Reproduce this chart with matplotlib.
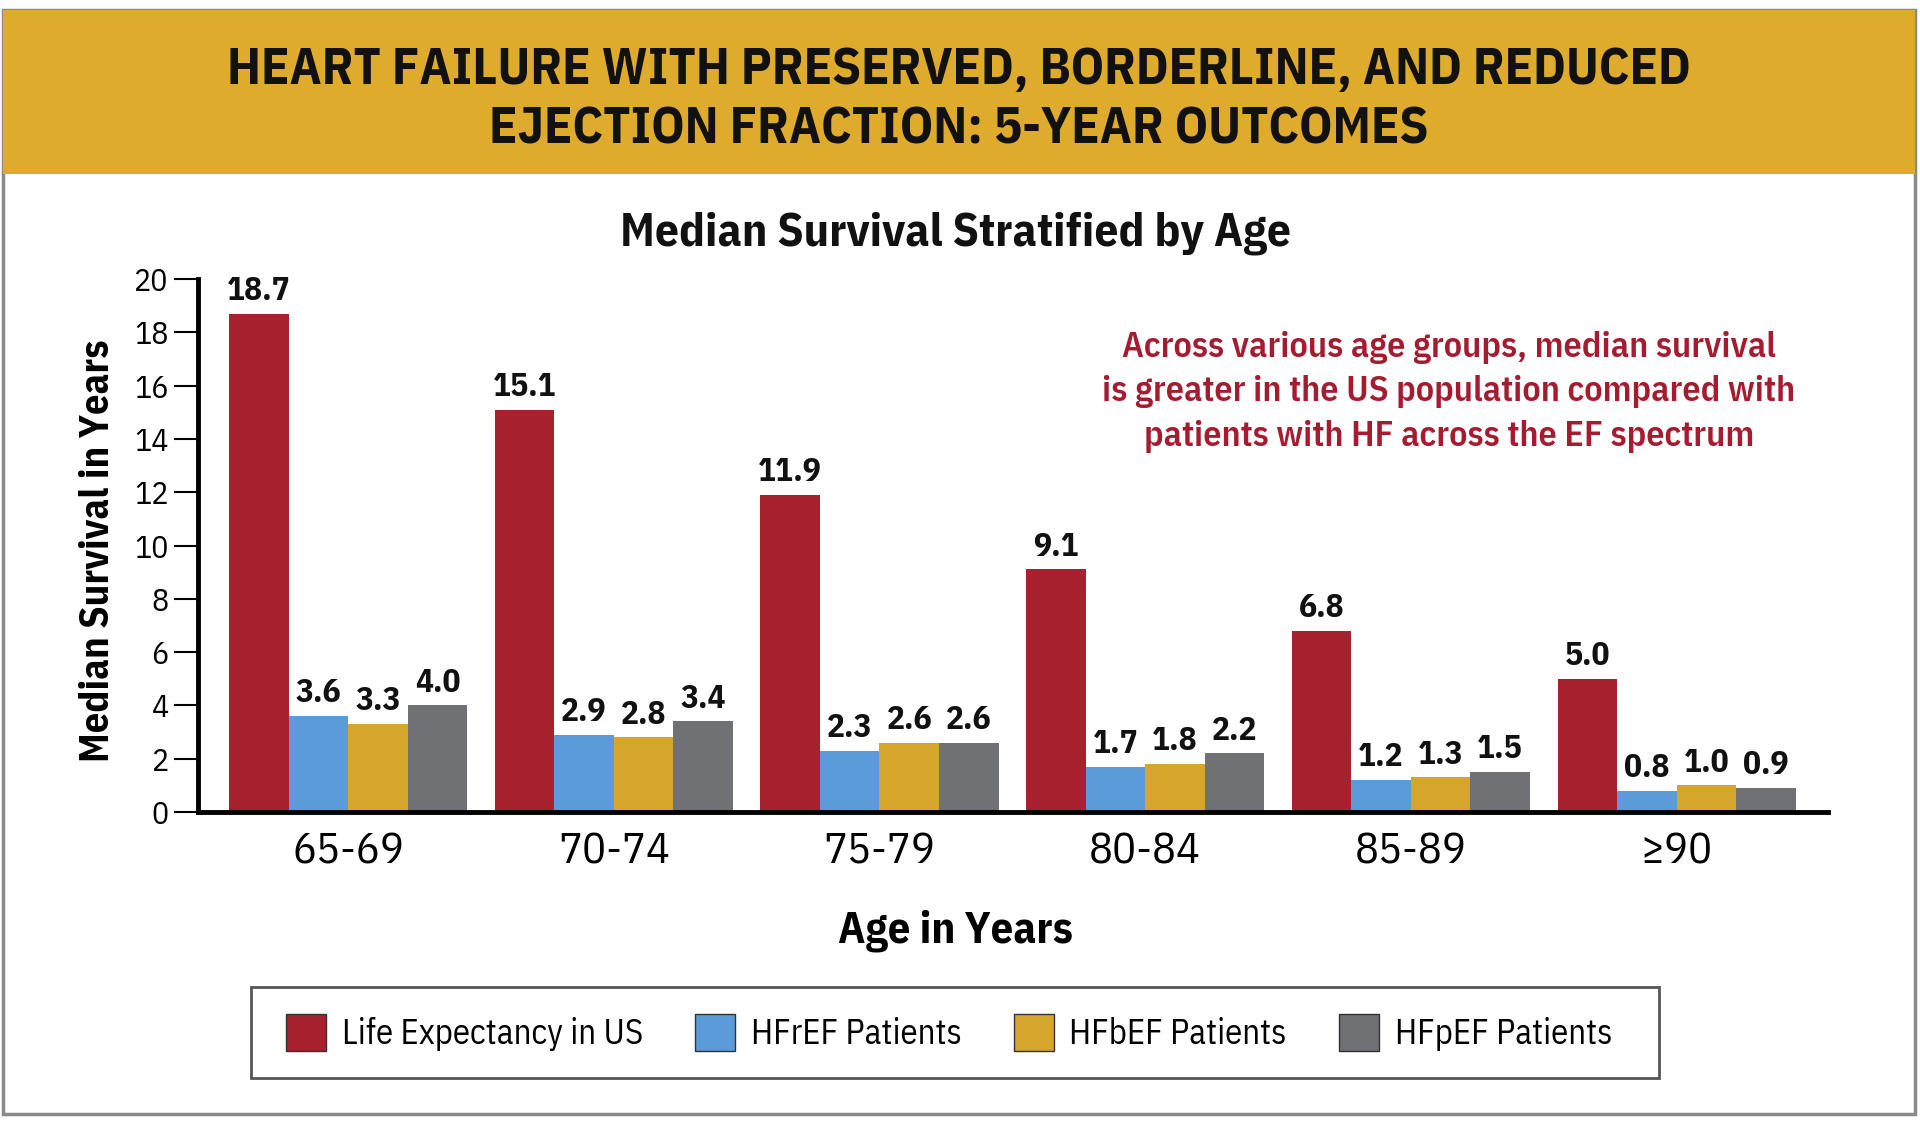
import matplotlib.pyplot as plt
import numpy as np
from matplotlib.patches import Rectangle, Patch

plt.rcParams['font.family'] = ['IBM Plex Sans Condensed', 'DejaVu Sans']

age_groups = ['65-69', '70-74', '75-79', '80-84', '85-89', '≥90']
series_names = ['Life Expectancy in US', 'HFrEF Patients', 'HFbEF Patients', 'HFpEF Patients']
life_us = [18.7, 15.1, 11.9, 9.1, 6.8, 5.0]
hfref = [3.6, 2.9, 2.3, 1.7, 1.2, 0.8]
hfbef = [3.3, 2.8, 2.6, 1.8, 1.3, 1.0]
hfpef = [4.0, 3.4, 2.6, 2.2, 1.5, 0.9]
colors = ['#A8212E', '#5C9BD9', '#D6A52C', '#707174']

W, H = 1920, 1121
fig = plt.figure(figsize=(W / 100, H / 100), dpi=100)

# outer frame, gold header, legend box
fig.patches.append(Rectangle((3 / W, 1 - 1114 / H), 1912 / W, 1104 / H, transform=fig.transFigure,
                             facecolor='none', edgecolor='#8a8a8a', linewidth=2.5, zorder=0))
fig.patches.append(Rectangle((3 / W, 1 - 174 / H), 1912 / W, 164 / H, transform=fig.transFigure,
                             facecolor='#DEAB2D', edgecolor='none', zorder=0))
fig.patches.append(Rectangle((251 / W, 1 - 1078 / H), (1659 - 251) / W, 91 / H, transform=fig.transFigure,
                             facecolor='none', edgecolor='#555555', linewidth=2, zorder=0))
fig.text(959 / W, 1 - 70 / H, 'HEART FAILURE WITH PRESERVED, BORDERLINE, AND REDUCED',
         ha='center', va='center', fontsize=37.5, fontweight='bold', color='#111111')
fig.text(959 / W, 1 - 129 / H, 'EJECTION FRACTION: 5-YEAR OUTCOMES',
         ha='center', va='center', fontsize=37.5, fontweight='bold', color='#111111')
fig.text(955 / W, 1 - 233 / H, 'Median Survival Stratified by Age',
         ha='center', va='center', fontsize=34, fontweight='bold', color='#111111')

ax = fig.add_axes([198 / W, 1 - 812 / H, (1828 - 198) / W, 533 / H])
ax.set_facecolor('none')

x = np.arange(len(age_groups))
width = 0.224
all_series = [life_us, hfref, hfbef, hfpef]
for i, (vals, name, c) in enumerate(zip(all_series, series_names, colors)):
    pos = x + (i - 1.5) * width
    ax.bar(pos, vals, width, color=c, label=name, zorder=2)
    for p, v in zip(pos, vals):
        ax.text(p, v + 0.25, f'{v:.1f}', ha='center', va='bottom', fontsize=24,
                fontweight='bold', color='#111111', clip_on=False)

ax.set_xlim(-0.565, 5.57)
ax.set_ylim(0, 20)
ax.set_yticks(range(0, 21, 2))
ax.tick_params(axis='y', labelsize=23, length=17, width=1.5, pad=4)
ax.tick_params(axis='x', length=0, labelsize=32, pad=14)
ax.set_xticks(x)
ax.set_xticklabels(age_groups)
for s in ['top', 'right']:
    ax.spines[s].set_visible(False)
ax.spines['left'].set_linewidth(3.5)
ax.spines['bottom'].set_linewidth(3.5)
ax.set_xlabel('Age in Years', fontsize=32, fontweight='bold')
ax.xaxis.set_label_coords((955 - 198) / (1828 - 198), -119 / 533)
ax.xaxis.label.set_va('center')
ax.set_ylabel('Median Survival in Years', fontsize=29, fontweight='bold')
ax.yaxis.set_label_coords(-(198 - 98) / (1828 - 198), (812 - 551) / 533)
ax.yaxis.label.set_va('center')

ax.text(1449 / W, 1 - 392 / H,
        'Across various age groups, median survival\nis greater in the US population compared with\npatients with HF across the EF spectrum',
        transform=fig.transFigure, ha='center', va='center', fontsize=26, color='#A51C30',
        fontweight='semibold', linespacing=1.45)

handles = [Patch(facecolor=c, edgecolor='#333333', linewidth=1) for c in colors]
leg = fig.legend(handles, series_names, loc='center', ncol=4, mode='expand',
                 bbox_to_anchor=(286 / W, 1 - 1070 / H, (1612 - 286) / W, 75 / H),
                 borderaxespad=0, fontsize=25, frameon=False,
                 handlelength=1.15, handleheight=1.27, handletextpad=0.45, borderpad=0,
                 columnspacing=2)

fig.savefig('out.png', dpi=100)
